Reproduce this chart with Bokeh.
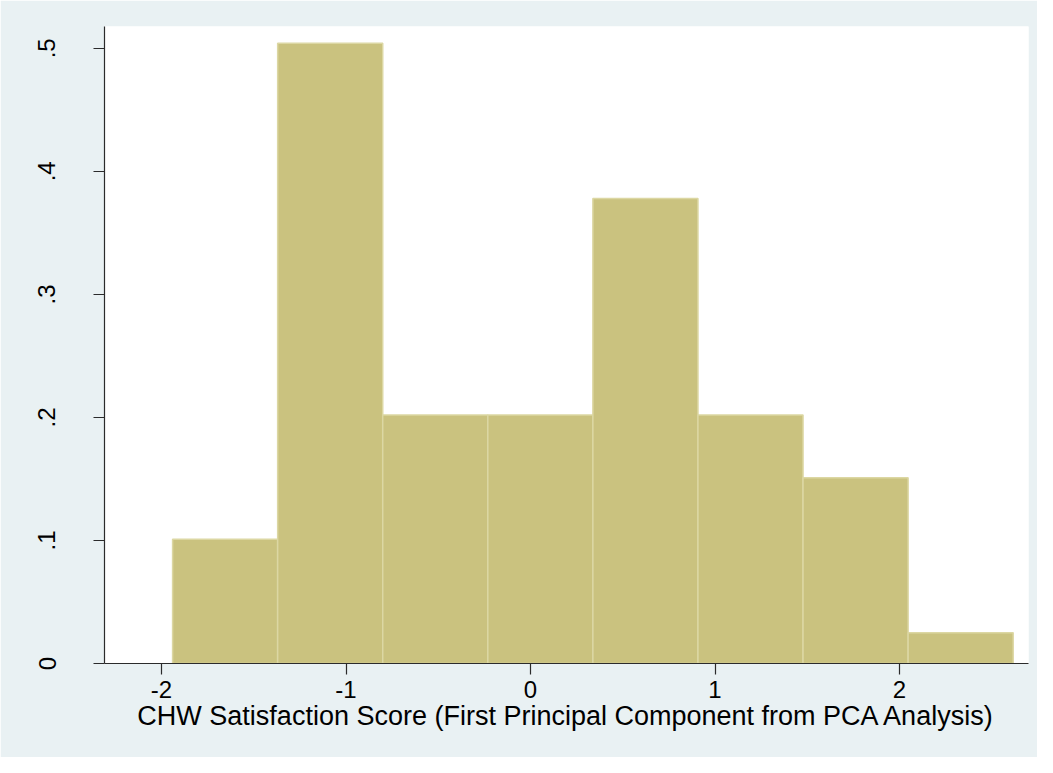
from bokeh.plotting import figure
from bokeh.models import Range1d, FixedTicker
from bokeh.embed import file_html
from bokeh.resources import INLINE

# Data
bin_edges = [-1.940, -1.3705, -0.801, -0.2315, 0.338, 0.9075, 1.477, 2.0465, 2.616]
densities = [0.101, 0.504, 0.202, 0.202, 0.378, 0.202, 0.151, 0.025]
x_ticks = [-2, -1, 0, 1, 2]
x_tick_labels = ["-2", "-1", "0", "1", "2"]
y_ticks = [0, 0.1, 0.2, 0.3, 0.4, 0.5]
y_tick_labels = ["0", ".1", ".2", ".3", ".4", ".5"]
x_title = "CHW Satisfaction Score (First Principal Component from PCA Analysis)"

BG = "#e9f1f3"
FONT = "Liberation Sans"

p = figure(width=1037, height=757, output_backend="svg", toolbar_location=None,
           x_range=Range1d(-2.309, 2.699), y_range=Range1d(0, 0.5177),
           min_border_left=104, min_border_right=9, min_border_top=26, min_border_bottom=94)
p.background_fill_color = "white"
p.border_fill_color = BG
p.outline_line_color = None
p.grid.visible = False

p.quad(left=bin_edges[:-1], right=bin_edges[1:], bottom=0, top=densities,
       fill_color="#cac27f", line_color="#dcd7a3", line_width=1.5)

for ax in (p.xaxis[0], p.yaxis[0]):
    ax.axis_line_color = "#2b2b2b"
    ax.axis_line_width = 1.2
    ax.major_tick_line_color = "#2b2b2b"
    ax.major_tick_line_width = 1.2
    ax.major_tick_out = 11
    ax.major_tick_in = 0
    ax.minor_tick_line_color = None
    ax.major_label_text_font = FONT
    ax.major_label_text_font_size = "24px"
    ax.major_label_text_color = "black"

p.xaxis.ticker = FixedTicker(ticks=x_ticks)
p.xaxis.major_label_overrides = {t: l for t, l in zip(x_ticks, x_tick_labels)}
p.xaxis.major_label_standoff = 6
p.xaxis.axis_label = x_title
p.xaxis.axis_label_text_font = FONT
p.xaxis.axis_label_text_font_size = "27px"
p.xaxis.axis_label_text_font_style = "normal"
p.xaxis.axis_label_text_color = "black"
p.xaxis.axis_label_standoff = 0

p.yaxis.ticker = FixedTicker(ticks=y_ticks)
p.yaxis.major_label_overrides = {t: l for t, l in zip(y_ticks, y_tick_labels)}
p.yaxis.major_label_orientation = "vertical"
p.yaxis.major_label_standoff = 38

open("out.html", "w").write(file_html(p, INLINE))
